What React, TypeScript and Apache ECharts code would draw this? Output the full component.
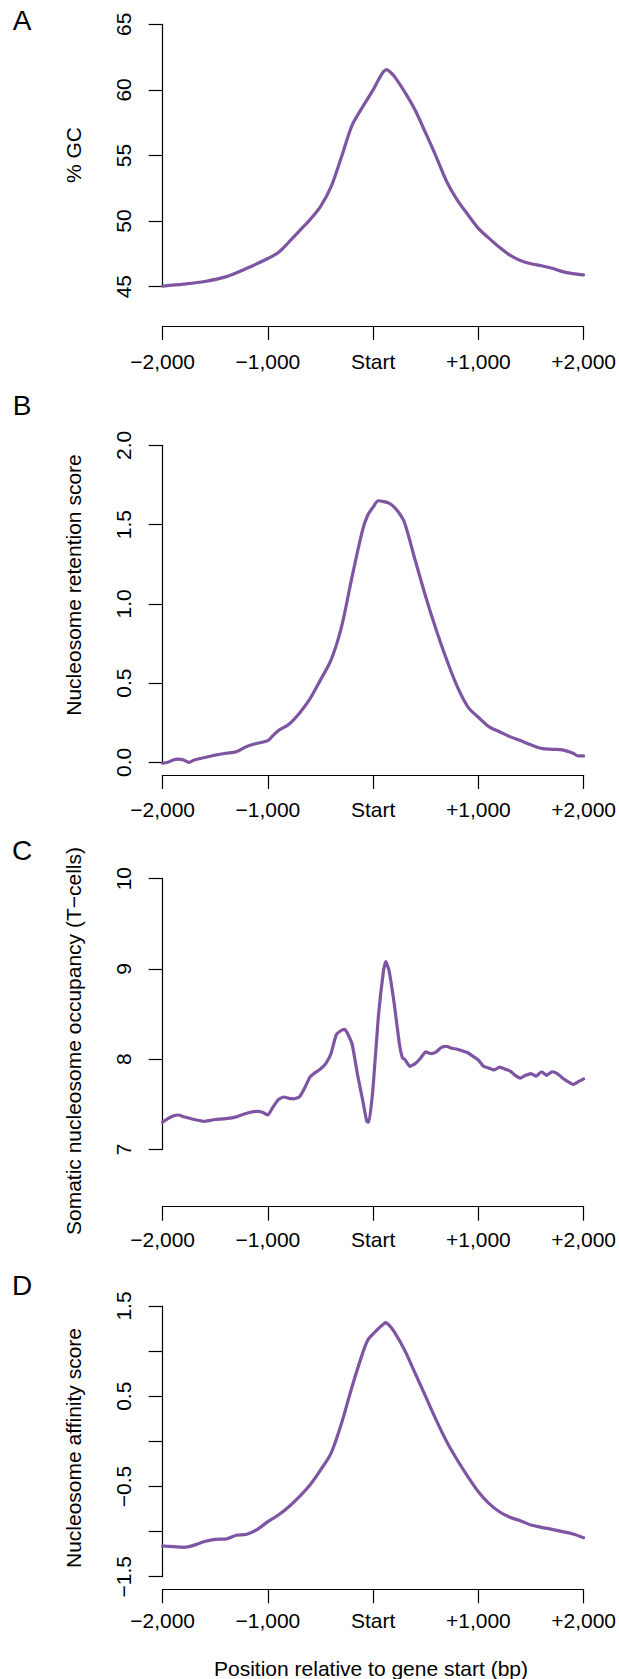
import React, { useEffect, useRef } from "react";
import * as echarts from "echarts";

// ---------- Data (bp relative to gene start) ----------
const X_TICK_LABELS: Record<string, string> = {
  "-2000": "\u22122,000",
  "-1000": "\u22121,000",
  "0": "Start",
  "1000": "+1,000",
  "2000": "+2,000",
};

// Panel A: % GC
const POS_A = [-2000, -1800, -1600, -1400, -1200, -1000, -900, -800, -700, -600, -500, -400, -300, -200, -100, 0, 50, 100, 130, 150, 200, 300, 400, 500, 600, 700, 800, 900, 1000, 1100, 1200, 1300, 1400, 1500, 1600, 1700, 1800, 1900, 2000];
const GC = [45.05, 45.2, 45.4, 45.75, 46.4, 47.15, 47.6, 48.4, 49.25, 50.1, 51.1, 52.6, 54.9, 57.3, 58.7, 60.0, 60.75, 61.4, 61.55, 61.45, 61.05, 59.85, 58.45, 56.7, 54.9, 53.0, 51.6, 50.5, 49.45, 48.7, 48.0, 47.4, 47.0, 46.75, 46.6, 46.4, 46.15, 46.0, 45.9];

// Panel B: nucleosome retention score
const POS_B = [-2000, -1950, -1900, -1850, -1800, -1750, -1700, -1600, -1500, -1400, -1300, -1200, -1100, -1000, -950, -900, -800, -700, -600, -500, -400, -300, -200, -100, -50, 0, 50, 100, 150, 200, 250, 300, 400, 500, 600, 700, 800, 900, 1000, 1100, 1200, 1300, 1400, 1500, 1600, 1700, 1800, 1900, 1950, 2000];
const RETENTION = [-0.006, 0.0, 0.015, 0.02, 0.015, 0.0, 0.015, 0.03, 0.045, 0.057, 0.067, 0.1, 0.12, 0.137, 0.17, 0.2, 0.24, 0.31, 0.4, 0.52, 0.645, 0.855, 1.17, 1.465, 1.56, 1.61, 1.65, 1.645, 1.635, 1.61, 1.57, 1.51, 1.275, 1.045, 0.835, 0.645, 0.477, 0.35, 0.284, 0.225, 0.193, 0.162, 0.137, 0.11, 0.088, 0.082, 0.078, 0.057, 0.04, 0.04];

// Panel C: somatic nucleosome occupancy (T-cells)
const POS_C = [-2000, -1950, -1900, -1850, -1800, -1700, -1600, -1550, -1500, -1400, -1300, -1200, -1100, -1050, -1000, -950, -900, -850, -800, -750, -700, -650, -600, -550, -500, -450, -400, -350, -300, -270, -250, -200, -150, -100, -60, -40, 0, 50, 100, 120, 150, 200, 250, 280, 300, 350, 400, 450, 500, 550, 600, 650, 700, 750, 800, 850, 900, 950, 1000, 1050, 1100, 1150, 1200, 1250, 1300, 1350, 1400, 1450, 1500, 1550, 1600, 1650, 1700, 1750, 1800, 1850, 1900, 1950, 2000];
const OCCUPANCY = [7.3, 7.34, 7.37, 7.38, 7.36, 7.33, 7.31, 7.32, 7.33, 7.34, 7.36, 7.4, 7.42, 7.41, 7.38, 7.47, 7.55, 7.58, 7.565, 7.56, 7.58, 7.68, 7.8, 7.85, 7.89, 7.95, 8.06, 8.27, 8.32, 8.33, 8.3, 8.17, 7.84, 7.55, 7.31, 7.3, 7.69, 8.47, 8.99, 9.08, 8.99, 8.62, 8.17, 8.01, 8.0, 7.92, 7.95, 8.01, 8.08, 8.06, 8.08, 8.13, 8.14, 8.12, 8.11, 8.09, 8.07, 8.03, 7.99, 7.92, 7.9, 7.88, 7.91, 7.89, 7.87, 7.82, 7.79, 7.82, 7.84, 7.81, 7.86, 7.82, 7.86, 7.84, 7.79, 7.75, 7.72, 7.75, 7.78];

// Panel D: nucleosome affinity score
const POS_D = [-2000, -1900, -1800, -1750, -1700, -1600, -1500, -1400, -1300, -1200, -1100, -1000, -900, -800, -700, -600, -500, -400, -300, -200, -100, -50, 0, 50, 100, 120, 150, 200, 300, 400, 500, 600, 700, 800, 900, 1000, 1100, 1200, 1300, 1400, 1500, 1600, 1700, 1800, 1900, 2000];
const AFFINITY = [-1.16, -1.167, -1.175, -1.167, -1.15, -1.11, -1.086, -1.083, -1.04, -1.03, -0.975, -0.89, -0.816, -0.724, -0.613, -0.484, -0.318, -0.133, 0.2, 0.606, 0.975, 1.123, 1.19, 1.25, 1.3, 1.315, 1.29, 1.215, 1.01, 0.754, 0.495, 0.236, -0.004, -0.207, -0.39, -0.558, -0.687, -0.78, -0.842, -0.88, -0.927, -0.953, -0.975, -1.0, -1.027, -1.068];

const Y_LABELS_A: Record<string, string> = { "45": "45", "50": "50", "55": "55", "60": "60", "65": "65" };
const Y_LABELS_B: Record<string, string> = { "0": "0.0", "0.5": "0.5", "1": "1.0", "1.5": "1.5", "2": "2.0" };
const Y_LABELS_C: Record<string, string> = { "7": "7", "8": "8", "9": "9", "10": "10" };
const Y_LABELS_D: Record<string, string> = { "-1.5": "\u22121.5", "-0.5": "\u22120.5", "0.5": "0.5", "1.5": "1.5" };

const Y_TITLES = [
  "% GC",
  "Nucleosome retention score",
  "Somatic nucleosome occupancy (T\u2212cells)",
  "Nucleosome affinity score",
];
const PANEL_LETTERS = ["A", "B", "C", "D"];
const X_TITLE = "Position relative to gene start (bp)";

// ---------- Layout ----------
const W = 619;
const H = 1679;
const FONT = "'Liberation Sans', Arial, Helvetica, sans-serif";
const LINE_COLOR = "#7E55A3";

const PANELS = [
  { top: 24.3, height: 262.4, xOffset: 39.3, xMargin: 25, min: 45, max: 65, interval: 5, labels: Y_LABELS_A, pos: POS_A, vals: GC, smooth: 0.3, titleY: 155, letterY: 20 },
  { top: 445.3, height: 317, xOffset: 12.7, xMargin: 23.5, min: 0, max: 2, interval: 0.5, labels: Y_LABELS_B, pos: POS_B, vals: RETENTION, smooth: 0.3, titleY: 585, letterY: 405 },
  { top: 878.7, height: 270.6, xOffset: 57.4, xMargin: 22, min: 7, max: 10, interval: 1, labels: Y_LABELS_C, pos: POS_C, vals: OCCUPANCY, smooth: 0.15, titleY: 1041, letterY: 850 },
  { top: 1306, height: 270.7, xOffset: 12.6, xMargin: 21, min: -1.5, max: 1.5, interval: 0.5, labels: Y_LABELS_D, pos: POS_D, vals: AFFINITY, smooth: 0.3, titleY: 1448, letterY: 1285 },
];

export default function App() {
  const ref = useRef<HTMLDivElement>(null);

  useEffect(() => {
    document.body.style.margin = "0";
    if (!ref.current) return;
    const chart = echarts.init(ref.current, undefined, { renderer: "svg" });

    const axisStyle = { color: "#000", width: 1.2 };
    const grid = PANELS.map((p) => ({
      left: 162.6,
      right: W - 592.5,
      top: p.top,
      height: p.height,
      containLabel: false,
    }));

    const xAxis = PANELS.map((p, i) => ({
      type: "value",
      gridIndex: i,
      min: -2000,
      max: 2000,
      interval: 1000,
      offset: p.xOffset,
      axisLine: { show: true, onZero: false, lineStyle: axisStyle },
      axisTick: { show: true, length: 14, lineStyle: axisStyle },
      splitLine: { show: false },
      axisLabel: {
        margin: p.xMargin,
        color: "#000",
        fontFamily: FONT,
        fontSize: 21,
        formatter: (v: number) => X_TICK_LABELS[String(v)] ?? "",
      },
    }));

    const yAxis = PANELS.map((p, i) => ({
      type: "value",
      gridIndex: i,
      min: p.min,
      max: p.max,
      interval: p.interval,
      axisLine: { show: true, onZero: false, lineStyle: axisStyle },
      axisTick: { show: true, length: 14, lineStyle: axisStyle },
      splitLine: { show: false },
      axisLabel: {
        rotate: 90,
        margin: 29,
        color: "#000",
        fontFamily: FONT,
        fontSize: 21,
        formatter: (v: number) => p.labels[String(Math.round(v * 100) / 100)] ?? "",
      },
    }));

    const series = PANELS.map((p, i) => ({
      type: "line",
      xAxisIndex: i,
      yAxisIndex: i,
      data: p.pos.map((x, k) => [x, p.vals[k]]),
      showSymbol: false,
      smooth: p.smooth,
      clip: false,
      lineStyle: { color: LINE_COLOR, width: 3.2, cap: "round", join: "round" },
    }));

    const graphic: any[] = [];
    PANELS.forEach((p, i) => {
      graphic.push({
        type: "text",
        x: 22,
        y: p.letterY,
        style: {
          text: PANEL_LETTERS[i],
          fontFamily: FONT,
          fontSize: 28,
          fill: "#000",
          textAlign: "center",
          textVerticalAlign: "middle",
        },
      });
      graphic.push({
        type: "text",
        x: 73,
        y: p.titleY,
        rotation: Math.PI / 2,
        style: {
          text: Y_TITLES[i],
          fontFamily: FONT,
          fontSize: 21,
          fill: "#000",
          textAlign: "center",
          textVerticalAlign: "middle",
        },
      });
    });
    graphic.push({
      type: "text",
      x: 371,
      y: 1668,
      style: {
        text: X_TITLE,
        fontFamily: FONT,
        fontSize: 21,
        fill: "#000",
        textAlign: "center",
        textVerticalAlign: "middle",
      },
    });

    chart.setOption({
      animation: false,
      backgroundColor: "#fff",
      grid,
      xAxis,
      yAxis,
      series,
      graphic,
    } as any);

    return () => chart.dispose();
  }, []);

  return (
    <div
      ref={ref}
      style={{ position: "absolute", left: 0, top: 0, width: W, height: H }}
    />
  );
}
